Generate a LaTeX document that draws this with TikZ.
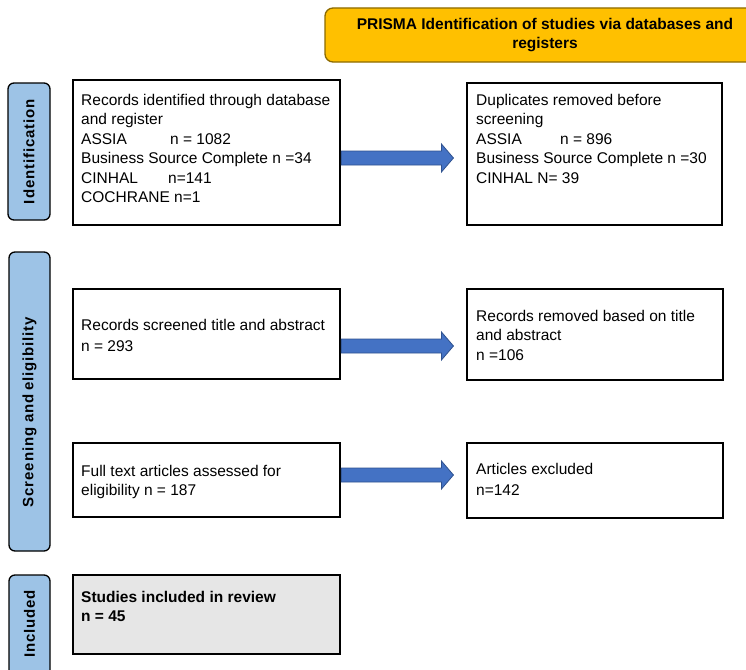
\documentclass[tikz,border=0pt]{standalone}
\usepackage{fontspec}
\setmainfont{Liberation Sans}
\usetikzlibrary{calc}

\definecolor{bannerfill}{HTML}{FFC000}
\definecolor{bannerline}{HTML}{8C6A00}
\definecolor{phasefill}{HTML}{9DC3E6}
\definecolor{arrowfill}{HTML}{4472C4}
\definecolor{arrowline}{HTML}{2F528F}
\definecolor{inclfill}{HTML}{E6E6E6}

\tikzset{
  box/.style={draw=black, line width=1.1pt, fill=white, inner sep=0pt},
  phase/.style={draw=black, line width=1.3pt, fill=phasefill, rounded corners=6pt, inner sep=0pt},
  phasetext/.style={rotate=90, font=\fontsize{15}{17}\selectfont\bfseries\addfontfeatures{LetterSpace=6}},
  boxtext/.style={anchor=north west, inner sep=0pt, align=left, font=\fontsize{15.5}{19.5}\selectfont},
  blockarrow/.style={fill=arrowfill, draw=arrowline, line width=0.8pt, line join=miter},
}

% fat block arrow from a start coordinate to a tip coordinate (same height)
\newcommand\blockarrow[2]{%
  \draw[blockarrow] let \p1=(#1), \p2=(#2) in
    (\x1,\y1+7pt) -- (\x2-12pt,\y1+7pt) -- (\x2-12pt,\y1+14pt) -- (\x2,\y1)
    -- (\x2-12pt,\y1-14pt) -- (\x2-12pt,\y1-7pt) -- (\x1,\y1-7pt) -- cycle;}

\begin{document}
\begin{tikzpicture}[x=1pt,y=-1pt]
\clip (0,0) rectangle (746,669);
\useasboundingbox (0,0) rectangle (746,669);
\fill[white] (0,0) rectangle (746,669);

% banner
\node[draw=bannerline, line width=1.3pt, fill=bannerfill, rounded corners=8pt,
      minimum width=440pt, minimum height=54pt, inner sep=0pt] (banner) at (545,35) {};
\node[align=center, inner sep=0pt, font=\fontsize{15.5}{19}\selectfont\bfseries] (bannertext) at (545,35)
  {PRISMA Identification of studies via databases and\\registers};

% phase labels
\node[phase, minimum width=42pt, minimum height=137pt] (pid) at (29,151.5) {};
\node[phasetext] at (pid.center) {Identification};
\node[phase, minimum width=41pt, minimum height=299pt] (pscr) at (29.5,401.5) {};
\node[phasetext] at (29.5,412) {Screening and\hspace{-2pt} eligibility};
\node[phase, minimum width=41pt, minimum height=110pt] (pinc) at (29.5,630) {};
\node[phasetext] at (29.5,624) {Included};

% boxes
\node[box, minimum width=267pt, minimum height=145pt] (b1) at (206.5,152.5) {};
\node[box, minimum width=255pt, minimum height=142pt] (b2) at (594.5,154) {};
\node[box, minimum width=267pt, minimum height=90pt]  (b3) at (206.5,334) {};
\node[box, minimum width=256pt, minimum height=91pt]  (b4) at (595,334.5) {};
\node[box, minimum width=267pt, minimum height=74pt]  (b5) at (206.5,480) {};
\node[box, minimum width=256pt, minimum height=75pt]  (b6) at (595,480.5) {};
\node[box, fill=inclfill, minimum width=267pt, minimum height=79pt] (b7) at (206.5,614.5) {};

% box texts
\node[boxtext] (t1) at (81,94) {Records identified through database\\and register\\
  \makebox[89pt][l]{ASSIA}n = 1082\\Business Source Complete n =34\\
  \makebox[87pt][l]{CINHAL}n=141\\COCHRANE n=1};
\node[boxtext] (t2) at (476,94) {Duplicates removed before\\screening\\
  \makebox[84pt][l]{ASSIA}n = 896\\Business Source Complete n =30\\CINHAL N= 39};
\node[boxtext, font=\fontsize{15.5}{21}\selectfont] (t3) at (81,319) {Records screened title and abstract\\n = 293};
\node[boxtext] (t4) at (476,310) {Records removed based on title\\and abstract\\n =106};
\node[boxtext] (t5) at (81,465) {Full text articles assessed for\\eligibility n = 187};
\node[boxtext, font=\fontsize{15.5}{21}\selectfont] (t6) at (476,463) {Articles excluded\\n=142};
\node[boxtext, font=\fontsize{15.5}{19.5}\selectfont\bfseries] (t7) at (81,591) {Studies included in review\\n = 45};

% arrows
\coordinate (a1s) at ($(b1.east)+(0.6,5.5)$);
\coordinate (a1e) at ($(a1s -| b2.west)+(-13,0)$);
\blockarrow{a1s}{a1e}
\coordinate (a2s) at ($(b3.east)+(0.6,12)$);
\coordinate (a2e) at ($(a2s -| b4.west)+(-13,0)$);
\blockarrow{a2s}{a2e}
\coordinate (a3s) at ($(b5.east)+(0.6,-5)$);
\coordinate (a3e) at ($(a3s -| b6.west)+(-13,0)$);
\blockarrow{a3s}{a3e}
\end{tikzpicture}
\end{document}
